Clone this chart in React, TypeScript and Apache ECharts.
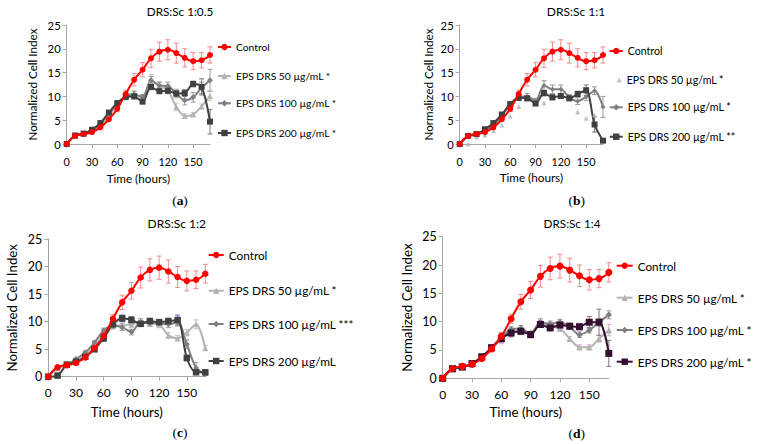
import React, { useEffect, useRef } from "react";
import * as echarts from "echarts";

// ---------- data ----------
const HOURS = [0, 10, 20, 30, 40, 50, 60, 70, 80, 90, 100, 110, 120, 130, 140, 150, 160, 170];
const X_TICKS = [0, 30, 60, 90, 120, 150];

const TITLES = ["DRS:Sc 1:0.5", "DRS:Sc 1:1", "DRS:Sc 1:2", "DRS:Sc 1:4"];
const SUBLABELS = ["a", "b", "c", "d"];
const LEGEND_A = ["Control", "EPS DRS 50 µg/mL *", "EPS DRS 100 µg/mL *", "EPS DRS 200 µg/mL *"];
const LEGEND_B = ["Control", "EPS DRS 50 µg/mL *", "EPS DRS 100 µg/mL *", "EPS DRS 200 µg/mL **"];
const LEGEND_C = ["Control", "EPS DRS 50 µg/mL *", "EPS DRS 100 µg/mL ***", "EPS DRS 200 µg/mL"];
const LEGEND_D = ["Control", "EPS DRS 50 µg/mL *", "EPS DRS 100 µg/mL *", "EPS DRS 200 µg/mL *"];

const CONTROL = [0, 1.7, 2.1, 2.5, 3.5, 5.2, 7.4, 10.5, 13.5, 15.6, 18.0, 19.4, 19.8, 19.1, 18.1, 17.4, 17.6, 18.7];
const CONTROL_ERR = [0, 0.2, 0.2, 0.3, 0.3, 0.4, 0.6, 0.8, 1.3, 1.5, 1.9, 2.0, 2.1, 2.1, 1.9, 1.8, 1.6, 1.7];

const A_50 = [0, 1.7, 2.1, 2.7, 4.0, 6.0, 8.1, 10.0, 10.6, 9.6, 13.2, 12.3, 11.3, 7.8, 5.9, 6.2, 7.9, 10.1];
const A_50_ERR = [0, 0.1, 0.2, 0.2, 0.3, 0.3, 0.4, 0.6, 0.7, 0.6, 1.4, 0.8, 0.8, 0.8, 0.5, 0.4, 0.5, 1.0];
const A_100 = [0, 1.8, 2.2, 2.9, 4.3, 6.4, 8.4, 9.9, 10.4, 9.9, 13.4, 12.3, 12.2, 10.6, 9.2, 9.8, 11.8, 13.4];
const A_100_ERR = [0, 0.1, 0.2, 0.2, 0.3, 0.3, 0.4, 0.5, 0.6, 0.5, 0.8, 0.7, 0.8, 0.9, 1.0, 1.0, 1.2, 2.3];
const A_200 = [0, 1.8, 2.2, 3.0, 4.4, 6.6, 8.6, 9.9, 10.0, 8.9, 12.0, 11.1, 11.2, 10.6, 10.7, 12.6, 12.0, 4.7];
const A_200_ERR = [0, 0.1, 0.2, 0.2, 0.3, 0.3, 0.4, 0.5, 0.5, 0.4, 0.6, 0.5, 0.6, 0.6, 0.7, 0.6, 1.7, 2.6];

const B_50 = [0, 0, 1.5, 1.9, 2.8, 4.0, 5.9, 7.9, 9.5, 9.3, 8.6, 10.2, 10.4, 9.6, 6.7, 5.4, 6.1, 8.0];
const B_50_ERR = [0, 0, 0, 0, 0, 0, 0, 0, 0, 0, 0, 0, 0, 0, 0, 0, 0, 0];
const B_100 = [0, 1.6, 2.0, 2.8, 4.0, 5.9, 8.2, 9.8, 10.0, 9.1, 12.3, 11.5, 11.5, 9.8, 9.0, 9.9, 11.2, 7.8];
const B_100_ERR = [0, 0.1, 0.2, 0.2, 0.3, 0.3, 0.4, 0.5, 0.6, 0.5, 1.0, 0.9, 0.9, 0.6, 0.7, 0.8, 0.8, 2.2];
const B_200 = [0, 1.7, 2.1, 3.1, 4.4, 6.2, 8.4, 9.7, 9.6, 8.5, 10.7, 9.8, 10.1, 9.6, 10.5, 11.3, 4.1, 0.7];
const B_200_ERR = [0, 0.1, 0.2, 0.2, 0.3, 0.3, 0.4, 0.5, 0.5, 0.4, 0.6, 0.5, 0.5, 0.5, 0.6, 1.1, 1.6, 0.3];

const C_50 = [0, 1.5, 2.1, 2.8, 3.9, 5.6, 7.7, 9.3, 9.3, 9.5, 9.9, 9.7, 9.5, 7.5, 7.0, 8.0, 9.5, 5.2];
const C_50_ERR = [0, 0.1, 0.2, 0.2, 0.3, 0.3, 0.4, 0.6, 0.6, 0.6, 0.7, 0.6, 0.6, 0.5, 0.5, 0.6, 0.8, 0.5];
const C_100 = [0, 1.8, 2.2, 3.2, 4.4, 6.2, 8.4, 9.3, 9.0, 8.1, 9.9, 9.8, 9.7, 9.5, 9.9, 5.9, 1.6, 0.5];
const C_100_ERR = [0, 0.1, 0.2, 0.2, 0.3, 0.3, 0.4, 0.6, 0.6, 0.5, 0.6, 0.6, 0.6, 0.6, 0.7, 0.8, 1.0, 0.3];
const C_200 = [0, 0.2, 2.2, 2.7, 3.6, 5.0, 7.0, 9.5, 10.6, 10.3, 9.6, 10.1, 9.9, 10.1, 10.3, 3.4, 0.8, 0.8];
const C_200_ERR = [0, 0.1, 0.2, 0.2, 0.3, 0.5, 0.6, 0.6, 0.6, 0.6, 0.5, 0.5, 0.5, 0.5, 0.9, 0.5, 0.3, 0.3];

const D_50 = [0, 1.6, 1.9, 2.5, 3.6, 5.2, 7.1, 8.2, 8.2, 7.9, 9.6, 9.4, 8.8, 7.0, 5.5, 5.5, 7.0, 8.5];
const D_50_ERR = [0, 0.1, 0.2, 0.2, 0.3, 0.4, 1.0, 0.7, 0.5, 0.4, 0.6, 0.5, 0.5, 0.4, 0.4, 0.4, 0.6, 1.0];
const D_100 = [0, 1.6, 1.9, 2.6, 3.7, 5.4, 7.3, 8.6, 8.8, 7.9, 9.9, 9.6, 9.9, 9.1, 7.7, 8.5, 9.9, 11.2];
const D_100_ERR = [0, 0.1, 0.2, 0.2, 0.3, 0.4, 0.7, 0.5, 0.5, 0.4, 0.6, 0.5, 0.5, 0.5, 0.5, 0.5, 0.7, 0.7];
const D_200 = [0, 1.7, 2.0, 2.6, 3.8, 5.4, 7.0, 8.0, 8.3, 7.7, 9.5, 8.9, 9.4, 9.2, 9.1, 9.9, 9.9, 4.4];
const D_200_ERR = [0, 0.1, 0.2, 0.2, 0.3, 0.5, 0.6, 0.7, 0.5, 0.4, 0.5, 0.5, 0.5, 0.5, 0.5, 1.0, 2.3, 2.3];

// ---------- styles / layout ----------
const FONT = "Lato, 'Liberation Sans', sans-serif";
const SERIF = "'Liberation Serif', 'DejaVu Serif', serif";
const AXIS_COLOR = "#a6a6a6";
const RED = "#ff0000";
const RED_ERR = "#f58a8a";
const LIGHT = "#b4b4b4";
const MID = "#808080";
const DARK = "#404040";
const PURPLE = "#33102f";

type Layout = {
  left: number; top: number; width: number; height: number;
  titleX: number; titleY: number; subX: number; subY: number;
  yNameGap: number; xNameGap: number; legendTextX: number; legendLineW: number;
  legendY: number[]; fTitle: number; fTick: number; fName: number; fLegend: number;
  xLabelMargin: number;
};

const LAYOUTS: Layout[] = [
  { left: 66.7, top: 25, width: 143.3, height: 119, titleX: 180, titleY: 11, subX: 180, subY: 200,
    yNameGap: 29, xNameGap: 28, legendTextX: 235, legendLineW: 13, legendY: [47, 76, 103.3, 133],
    fTitle: 11.7, fTick: 10.8, fName: 11.7, fLegend: 10.3, xLabelMargin: 12 },
  { left: 459.7, top: 25, width: 143.3, height: 119, titleX: 576, titleY: 11, subX: 576.7, subY: 200,
    yNameGap: 25.5, xNameGap: 27, legendTextX: 626.7, legendLineW: 13, legendY: [51, 80, 107.3, 136.7],
    fTitle: 12, fTick: 10.8, fName: 11.7, fLegend: 10.6, xLabelMargin: 12 },
  { left: 48.3, top: 239, width: 157, height: 137.7, titleX: 176.7, titleY: 223, subX: 180, subY: 432,
    yNameGap: 30, xNameGap: 28.3, legendTextX: 227.7, legendLineW: 15, legendY: [255, 290.7, 324, 361],
    fTitle: 12, fTick: 12, fName: 13.3, fLegend: 11.8, xLabelMargin: 10 },
  { left: 442.7, top: 236.7, width: 166.1, height: 141.6, titleX: 572, titleY: 223, subX: 576.7, subY: 433,
    yNameGap: 29.3, xNameGap: 27.3, legendTextX: 636.7, legendLineW: 16, legendY: [265.7, 297.7, 330, 361.7],
    fTitle: 11.7, fTick: 12, fName: 13.4, fLegend: 11.7, xLabelMargin: 10 },
];

type SeriesDef = {
  vals: number[]; err: number[]; color: string; errColor: string; symbol: string;
  size: number; noLine?: boolean; smooth: number; width: number;
};

const PANELS: { legend: string[]; series: SeriesDef[] }[] = [
  {
    legend: LEGEND_A,
    series: [
      { vals: CONTROL, err: CONTROL_ERR, color: RED, errColor: RED_ERR, symbol: "circle", size: 6, smooth: 0.5, width: 2 },
      { vals: A_50, err: A_50_ERR, color: LIGHT, errColor: "#b8d8a0", symbol: "triangle", size: 6, smooth: 0.3, width: 2 },
      { vals: A_100, err: A_100_ERR, color: MID, errColor: "#9a9a9a", symbol: "diamond", size: 6, smooth: 0.3, width: 2 },
      { vals: A_200, err: A_200_ERR, color: DARK, errColor: "#7a7a7a", symbol: "rect", size: 6, smooth: 0.3, width: 2 },
    ],
  },
  {
    legend: LEGEND_B,
    series: [
      { vals: CONTROL, err: CONTROL_ERR, color: RED, errColor: RED_ERR, symbol: "circle", size: 6, smooth: 0.5, width: 2 },
      { vals: B_50, err: B_50_ERR, color: LIGHT, errColor: LIGHT, symbol: "triangle", size: 5, smooth: 0, width: 0, noLine: true },
      { vals: B_100, err: B_100_ERR, color: MID, errColor: "#9a9a9a", symbol: "diamond", size: 5, smooth: 0.3, width: 2 },
      { vals: B_200, err: B_200_ERR, color: DARK, errColor: "#7a7a7a", symbol: "rect", size: 6, smooth: 0.3, width: 2 },
    ],
  },
  {
    legend: LEGEND_C,
    series: [
      { vals: CONTROL, err: CONTROL_ERR, color: RED, errColor: RED_ERR, symbol: "circle", size: 6.5, smooth: 0.5, width: 2 },
      { vals: C_50, err: C_50_ERR, color: LIGHT, errColor: "#c0c0c0", symbol: "triangle", size: 6, smooth: 0.3, width: 2 },
      { vals: C_100, err: C_100_ERR, color: MID, errColor: "#9a9a9a", symbol: "diamond", size: 6, smooth: 0.3, width: 2 },
      { vals: C_200, err: C_200_ERR, color: DARK, errColor: "#5b73b8", symbol: "rect", size: 6.5, smooth: 0.3, width: 2 },
    ],
  },
  {
    legend: LEGEND_D,
    series: [
      { vals: CONTROL, err: CONTROL_ERR, color: RED, errColor: RED_ERR, symbol: "circle", size: 7, smooth: 0.5, width: 2 },
      { vals: D_50, err: D_50_ERR, color: LIGHT, errColor: "#e0a0e0", symbol: "triangle", size: 6.5, smooth: 0.3, width: 2 },
      { vals: D_100, err: D_100_ERR, color: MID, errColor: "#9a9a9a", symbol: "diamond", size: 6.5, smooth: 0.3, width: 2 },
      { vals: D_200, err: D_200_ERR, color: PURPLE, errColor: "#8a7088", symbol: "rect", size: 7, smooth: 0.3, width: 2 },
    ],
  },
];

function buildOption() {
  const grid: any[] = [];
  const xAxis: any[] = [];
  const yAxis: any[] = [];
  const series: any[] = [];
  const legend: any[] = [];
  const title: any[] = [];
  const graphic: any[] = [];

  PANELS.forEach((panel, pi) => {
    const L = LAYOUTS[pi];
    const prefix = "p" + pi + "|";
    grid.push({ left: L.left, top: L.top, width: L.width, height: L.height, containLabel: false });
    const nameStyle = { fontFamily: FONT, fontSize: L.fName, fontWeight: "normal", color: "#000" };
    xAxis.push({
      gridIndex: pi, type: "value", min: 0, max: 170,
      name: "Time (hours)", nameLocation: "middle", nameGap: L.xNameGap, nameTextStyle: nameStyle,
      axisLine: { show: true, onZero: false, lineStyle: { color: AXIS_COLOR, width: 1 } },
      axisTick: { show: true, length: 4, customValues: X_TICKS, lineStyle: { color: AXIS_COLOR } },
      axisLabel: { customValues: X_TICKS, margin: L.xLabelMargin, fontSize: L.fTick, fontFamily: FONT, color: "#000" },
      splitLine: { show: false },
    });
    yAxis.push({
      gridIndex: pi, type: "value", min: 0, max: 25, interval: 5,
      name: "Normalized Cell Index", nameLocation: "middle", nameGap: L.yNameGap, nameTextStyle: nameStyle,
      axisLine: { show: true, lineStyle: { color: AXIS_COLOR, width: 1 } },
      axisTick: { show: true, length: 4, lineStyle: { color: AXIS_COLOR } },
      axisLabel: { margin: 6, fontSize: L.fTick + 0.5, fontFamily: FONT, color: "#000" },
      splitLine: { show: false },
    });

    title.push({
      text: TITLES[pi], left: L.titleX, top: L.titleY - 8, textAlign: "center", padding: 0,
      textStyle: { fontFamily: FONT, fontSize: L.fTitle, fontWeight: "normal", color: "#000", lineHeight: 16 },
    });

    panel.series.forEach((s, si) => {
      const name = prefix + panel.legend[si];
      const errData = HOURS.map((t, k) => [t, Math.max(0, s.vals[k] - s.err[k]), s.vals[k] + s.err[k], s.err[k]])
        .filter((d) => d[3] > 0);
      series.push({
        type: "custom",
        name: prefix + "err" + si,
        xAxisIndex: pi, yAxisIndex: pi,
        silent: true,
        z: 1,
        data: errData,
        encode: { x: 0, y: [1, 2] },
        renderItem: (params: any, api: any) => {
          const x = api.value(0);
          const lo = api.coord([x, api.value(1)]);
          const hi = api.coord([x, api.value(2)]);
          const w = 2.5;
          const st = { stroke: s.errColor, lineWidth: 1 };
          return {
            type: "group",
            children: [
              { type: "line", shape: { x1: lo[0], y1: lo[1], x2: hi[0], y2: hi[1] }, style: st },
              { type: "line", shape: { x1: lo[0] - w, y1: lo[1], x2: lo[0] + w, y2: lo[1] }, style: st },
              { type: "line", shape: { x1: hi[0] - w, y1: hi[1], x2: hi[0] + w, y2: hi[1] }, style: st },
            ],
          };
        },
      });
      const data = HOURS.map((t, k) => [t, s.vals[k]]);
      if (s.noLine) {
        series.push({
          type: "scatter", name, xAxisIndex: pi, yAxisIndex: pi, z: 3,
          symbol: s.symbol, symbolSize: s.size, itemStyle: { color: s.color }, data,
        });
      } else {
        series.push({
          type: "line", name, xAxisIndex: pi, yAxisIndex: pi, z: si === 0 ? 4 : 3,
          smooth: s.smooth, symbol: s.symbol, symbolSize: s.size, showSymbol: true,
          lineStyle: { color: s.color, width: s.width },
          itemStyle: { color: s.color, borderWidth: 0 },
          data,
        });
      }
      const lh = 14;
      const iw = s.noLine ? 5 : L.legendLineW;
      const ih = s.noLine ? 5 : 8;
      legend.push({
        left: L.legendTextX - 5 - iw,
        top: L.legendY[si] - lh / 2,
        orient: "horizontal",
        padding: 0,
        itemWidth: iw,
        itemHeight: ih,
        selectedMode: false,
        data: [name],
        formatter: (n: string) => n.slice(3),
        textStyle: { fontFamily: FONT, fontSize: L.fLegend, color: "#000", lineHeight: lh },
      });
    });

    graphic.push({
      type: "text", x: L.subX, y: L.subY,
      style: {
        text: `{p|(}{b|${SUBLABELS[pi]}}{p|)}`,
        rich: {
          p: { fontFamily: SERIF, fontSize: 13.5, fontWeight: "normal", fill: "#000" },
          b: { fontFamily: SERIF, fontSize: 13.5, fontWeight: "bold", fill: "#000" },
        },
        align: "center", verticalAlign: "middle",
      },
    });
  });

  return {
    animation: false,
    backgroundColor: "#ffffff",
    title, grid, xAxis, yAxis, series, legend, graphic,
  };
}

export default function App() {
  const ref = useRef<HTMLDivElement>(null);
  useEffect(() => {
    document.body.style.margin = "0";
    if (!ref.current) return;
    const chart = echarts.init(ref.current, undefined, { renderer: "svg" });
    chart.setOption(buildOption() as any);
    return () => chart.dispose();
  }, []);
  return <div ref={ref} style={{ width: 757, height: 444 }} />;
}
